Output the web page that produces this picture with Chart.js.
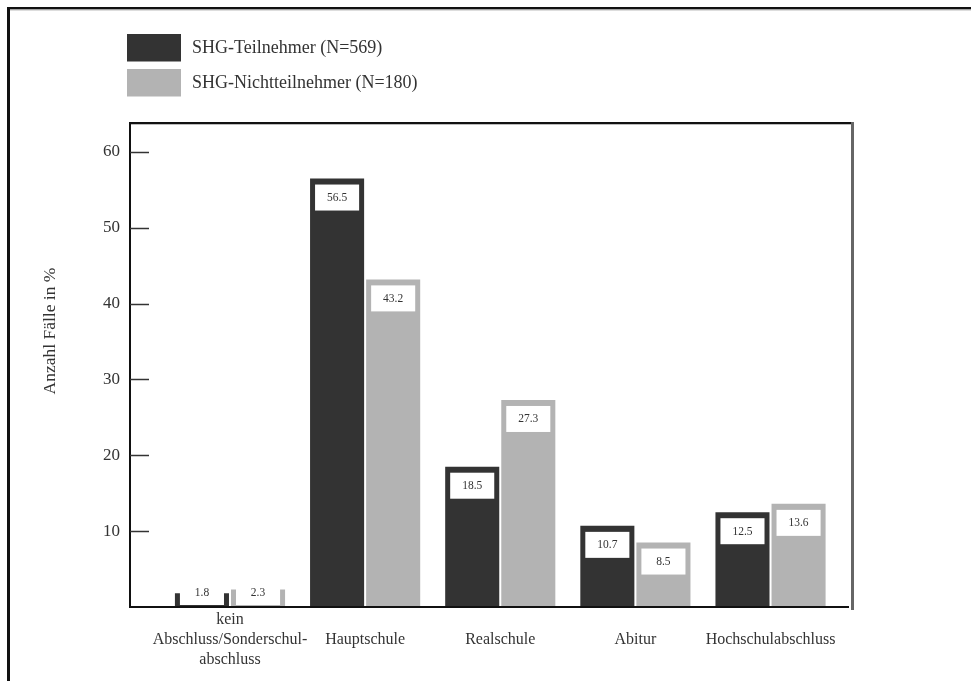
<!DOCTYPE html>
<html>
<head>
<meta charset="utf-8">
<script src="https://cdn.jsdelivr.net/npm/chart.js@4.4.1/dist/chart.umd.min.js"></script>
<style>
  html, body { margin: 0; padding: 0; background: #fff; }
  canvas { display: block; }
</style>
</head>
<body>
<canvas id="chart" width="971" height="681"></canvas>
<script>
// School-leaving qualifications of self-help group members vs. non-members
const categories = [['kein', 'Abschluss/Sonderschul-', 'abschluss'], 'Hauptschule', 'Realschule', 'Abitur', 'Hochschulabschluss'];
const teilnehmer = [1.8, 56.5, 18.5, 10.7, 12.5];
const nichtteilnehmer = [2.3, 43.2, 27.3, 8.5, 13.6];
const seriesNames = ['SHG-Teilnehmer (N=569)', 'SHG-Nichtteilnehmer (N=180)'];
const seriesColors = ['#333333', '#b3b3b3'];
const yTicks = [10, 20, 30, 40, 50, 60];
const yTitle = 'Anzahl Fälle in %';

const SERIF = '"Liberation Serif", "DejaVu Serif", serif';
const TEXT = '#333333';

const toPoints = arr => arr.map((v, i) => ({ x: i, y: v }));

// Frame, plot box, inward y ticks, legend and axis title
const decorations = {
  id: 'decorations',
  afterDatasetsDraw(chart) {
    const ctx = chart.ctx;
    ctx.save();
    // value labels in white boxes near the top of each bar
    chart.data.datasets.forEach((ds, di) => {
      const meta = chart.getDatasetMeta(di);
      meta.data.forEach((bar, i) => {
        const { x, y, base, width } = bar.getProps(['x', 'y', 'base', 'width'], true);
        const bw = width - 10;
        const bh = 26;
        const top = Math.min(y + 6, base - bh - 2);
        ctx.fillStyle = '#ffffff';
        ctx.fillRect(x - bw / 2, top, bw, bh);
        ctx.fillStyle = TEXT;
        ctx.font = '11.5px ' + SERIF;
        ctx.textAlign = 'center';
        ctx.textBaseline = 'middle';
        ctx.fillText(String(ds.data[i].y), x, top + bh / 2 + 0.5);
      });
    });
    ctx.restore();
  },
  afterDraw(chart) {
    const ctx = chart.ctx;
    const a = chart.chartArea;
    const yScale = chart.scales.y;
    ctx.save();

    // outer frame (left and top edges)
    ctx.fillStyle = '#111111';
    ctx.fillRect(7, 7, 3, chart.height);
    ctx.fillRect(7, 7, chart.width, 2.5);
    ctx.fillStyle = '#bbbbbb';
    ctx.fillRect(10, 9.5, chart.width, 1);

    // plot box
    ctx.fillStyle = '#111111';
    ctx.fillRect(a.left - 1, a.top - 3, a.right - a.left + 1, 2);
    ctx.fillStyle = '#bbbbbb';
    ctx.fillRect(a.left + 1, a.top - 1, a.right - a.left - 1, 1);
    ctx.fillStyle = '#666666';
    ctx.fillRect(a.right - 1, a.top - 3, 3, a.bottom - a.top + 6);
    ctx.fillStyle = '#111111';
    ctx.fillRect(a.left - 1, a.top - 3, 2, a.bottom - a.top + 4);
    ctx.fillRect(a.left - 1, a.bottom - 1, a.right - a.left - 2, 2);

    // inward tick marks
    ctx.strokeStyle = '#333333';
    ctx.lineWidth = 1.5;
    yScale.ticks.forEach(t => {
      const py = Math.round(yScale.getPixelForValue(t.value)) + 0.5;
      ctx.beginPath();
      ctx.moveTo(a.left, py);
      ctx.lineTo(a.left + 19, py);
      ctx.stroke();
    });

    // legend
    ctx.font = '18px ' + SERIF;
    ctx.textAlign = 'left';
    ctx.textBaseline = 'middle';
    chart.data.datasets.forEach((ds, i) => {
      const top = 34 + i * 35;
      ctx.fillStyle = ds.backgroundColor;
      ctx.fillRect(127, top, 54, 27.5);
      ctx.fillStyle = TEXT;
      ctx.fillText(ds.label, 192, top + 14.5);
    });

    // y axis title
    ctx.translate(50, 331);
    ctx.rotate(-Math.PI / 2);
    ctx.font = '17.5px ' + SERIF;
    ctx.textAlign = 'center';
    ctx.textBaseline = 'middle';
    ctx.fillStyle = TEXT;
    ctx.fillText(yTitle, 0, 0);
    ctx.restore();
  }
};

new Chart(document.getElementById('chart'), {
  type: 'bar',
  data: {
    datasets: [
      { label: seriesNames[0], data: toPoints(teilnehmer), backgroundColor: seriesColors[0] },
      { label: seriesNames[1], data: toPoints(nichtteilnehmer), backgroundColor: seriesColors[1] }
    ]
  },
  options: {
    responsive: false,
    animation: false,
    events: [],
    layout: { padding: { top: 125, right: 119, left: 0, bottom: 0 } },
    datasets: { bar: { categoryPercentage: 0.83, barPercentage: 0.964 } },
    plugins: { legend: { display: false }, tooltip: { enabled: false } },
    scales: {
      x: {
        type: 'linear',
        offset: false,
        min: -0.74,
        max: 4.603,
        grid: { display: false, drawTicks: false, offset: false },
        border: { display: false },
        afterBuildTicks: s => { s.ticks = categories.map((c, i) => ({ value: i })); },
        afterFit: s => { s.height = 74; },
        ticks: {
          autoSkip: false,
          maxRotation: 0,
          padding: 13,
          crossAlign: 'center',
          color: TEXT,
          font: { family: SERIF, size: 16, lineHeight: '20px' },
          callback: (value, index) => categories[index]
        }
      },
      y: {
        min: 0,
        max: 63.56,
        grid: { display: false, drawTicks: false },
        border: { display: false },
        afterBuildTicks: s => { s.ticks = yTicks.map(v => ({ value: v })); },
        afterFit: s => { s.width = 130; },
        ticks: {
          padding: 10,
          color: TEXT,
          font: { family: SERIF, size: 17 }
        }
      }
    }
  },
  plugins: [decorations]
});
</script>
</body>
</html>
